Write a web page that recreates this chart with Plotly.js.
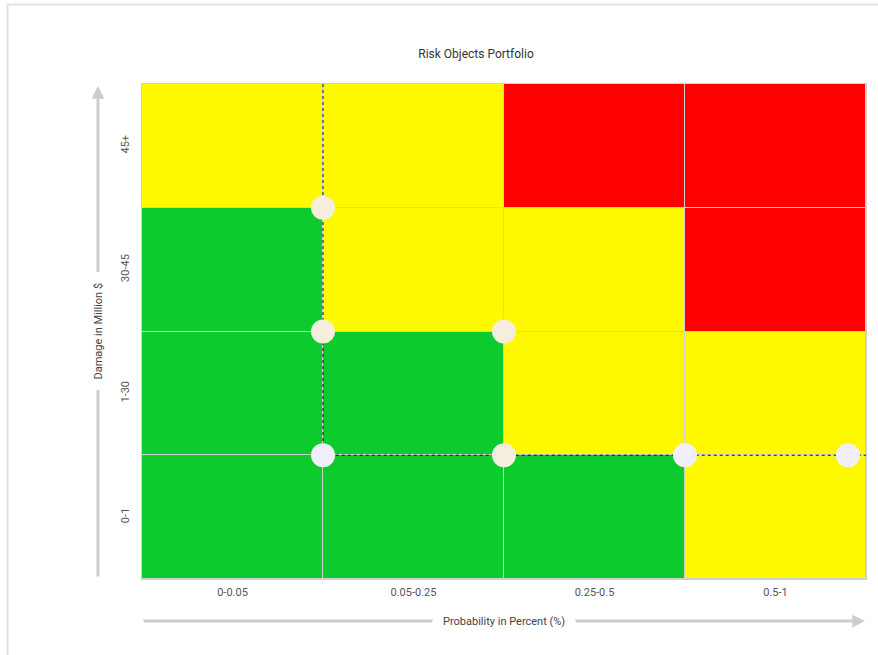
<!DOCTYPE html>
<html>
<head>
<meta charset="utf-8">
<script src="https://cdn.plot.ly/plotly-3.0.1.min.js"></script>
<style>
  html, body { margin: 0; padding: 0; background: #fff; }
  #chart { width: 878px; height: 655px; }
</style>
</head>
<body>
<div id="chart"></div>
<script>
// Risk matrix categories
const probabilityBands = ['0-0.05', '0.05-0.25', '0.25-0.5', '0.5-1'];
const damageBands = ['0-1', '1-30', '30-45', '45+'];

// Risk level per cell (0 = low, 1 = medium, 2 = high), rows from '0-1' up to '45+'
const riskRow01 = [0, 0, 0, 1];
const riskRow130 = [0, 0, 1, 1];
const riskRow3045 = [0, 1, 1, 2];
const riskRow45 = [1, 1, 2, 2];

// Risk objects placed on the matrix (band index positions)
const objectProb = [0.5, 0.5, 1.5, 0.5, 1.5, 2.5, 3.4];
const objectDamage = [2.5, 1.5, 1.5, 0.5, 0.5, 0.5, 0.5];
const objectColor = ['#f5eedd', '#f5eedd', '#f5eedd', '#f1eff9', '#f5eedd', '#f1eff9', '#f1eff9'];

// Tolerance boundary
const boundaryProb = [0.5, 0.5, 3.5];
const boundaryDamage = [3.5, 0.5, 0.5];

const bandIdx = probabilityBands.map((_, i) => i);
const damageIdx = damageBands.map((_, i) => i);

const W = 878, H = 655;
const M = { l: 142, r: 12, t: 84, b: 76 };
const pw = W - M.l - M.r, ph = H - M.t - M.b;
const px = v => (v - M.l) / pw;
const py = v => (H - M.b - v) / ph;

const traces = [
  {
    type: 'heatmap',
    x: bandIdx,
    y: damageIdx,
    z: [riskRow01, riskRow130, riskRow3045, riskRow45],
    zmin: 0, zmax: 2,
    colorscale: [[0, '#0dcb2d'], [0.5, '#fff900'], [1, '#ff0000']],
    showscale: false,
    xgap: 1, ygap: 1,
    hoverinfo: 'skip'
  },
  {
    type: 'scatter',
    mode: 'lines',
    x: boundaryProb,
    y: boundaryDamage,
    line: { color: '#111', width: 1, dash: 'dot' },
    hoverinfo: 'skip'
  },
  {
    type: 'scatter',
    mode: 'markers',
    x: objectProb,
    y: objectDamage,
    marker: { size: 24, color: objectColor, line: { width: 0 } },
    hoverinfo: 'skip'
  }
];

const tickFont = { family: 'Roboto, sans-serif', size: 11, color: '#555' };

const layout = {
  width: W, height: H,
  margin: M,
  paper_bgcolor: '#ffffff',
  plot_bgcolor: '#cfcfcf',
  showlegend: false,
  title: {
    text: 'Risk Objects Portfolio',
    font: { family: 'Roboto, sans-serif', size: 12, color: '#333' },
    xref: 'paper', x: px(476), xanchor: 'center',
    yref: 'container', y: 1 - 54 / H, yanchor: 'middle'
  },
  xaxis: {
    range: [-0.5, 3.5],
    tickvals: bandIdx, ticktext: probabilityBands,
    tickfont: tickFont, ticklabelstandoff: 3,
    showgrid: false, zeroline: false,
    showline: true, mirror: true, linecolor: '#d0d0d0', linewidth: 1,
    ticks: '', fixedrange: true
  },
  yaxis: {
    range: [-0.5, 3.5],
    tickvals: damageIdx, ticktext: damageBands,
    tickfont: tickFont, tickangle: -90, ticklabelstandoff: 8,
    showgrid: false, zeroline: false,
    showline: true, mirror: true, linecolor: '#d0d0d0', linewidth: 1,
    ticks: '', fixedrange: true
  },
  shapes: [
    // card outline
    { type: 'rect', xref: 'paper', yref: 'paper',
      x0: px(7.5), x1: px(W + 40), y0: py(H + 40), y1: py(4.5),
      line: { color: '#e3e3e3', width: 2 }, fillcolor: 'rgba(0,0,0,0)', layer: 'below' }
  ],
  annotations: [
    // vertical axis arrow
    { xref: 'paper', yref: 'paper', x: px(98), y: py(86), text: '',
      showarrow: true, arrowhead: 2, arrowsize: 0.85, arrowwidth: 3, arrowcolor: '#cccccc',
      axref: 'pixel', ayref: 'pixel', ax: 0, ay: 492, standoff: 0 },
    { xref: 'paper', yref: 'paper', x: px(98), y: 0.5, xanchor: 'center', yanchor: 'middle',
      text: 'Damage in Million $',
      showarrow: false, textangle: -90, bgcolor: '#ffffff', borderpad: 10,
      font: { family: 'Roboto, sans-serif', size: 11, color: '#444' } },
    // horizontal axis arrow
    { xref: 'paper', yref: 'paper', x: px(865), y: py(621), text: '',
      showarrow: true, arrowhead: 2, arrowsize: 0.85, arrowwidth: 3, arrowcolor: '#cccccc',
      axref: 'pixel', ayref: 'pixel', ax: -723, ay: 0, standoff: 0 },
    { xref: 'paper', yref: 'paper', x: 0.5, y: py(621), xanchor: 'center', yanchor: 'middle',
      text: 'Probability in Percent (%)',
      showarrow: false, bgcolor: '#ffffff', borderpad: 10,
      font: { family: 'Roboto, sans-serif', size: 11, color: '#444' } }
  ]
};

Plotly.newPlot('chart', traces, layout, { displayModeBar: false, staticPlot: true });
</script>
</body>
</html>
